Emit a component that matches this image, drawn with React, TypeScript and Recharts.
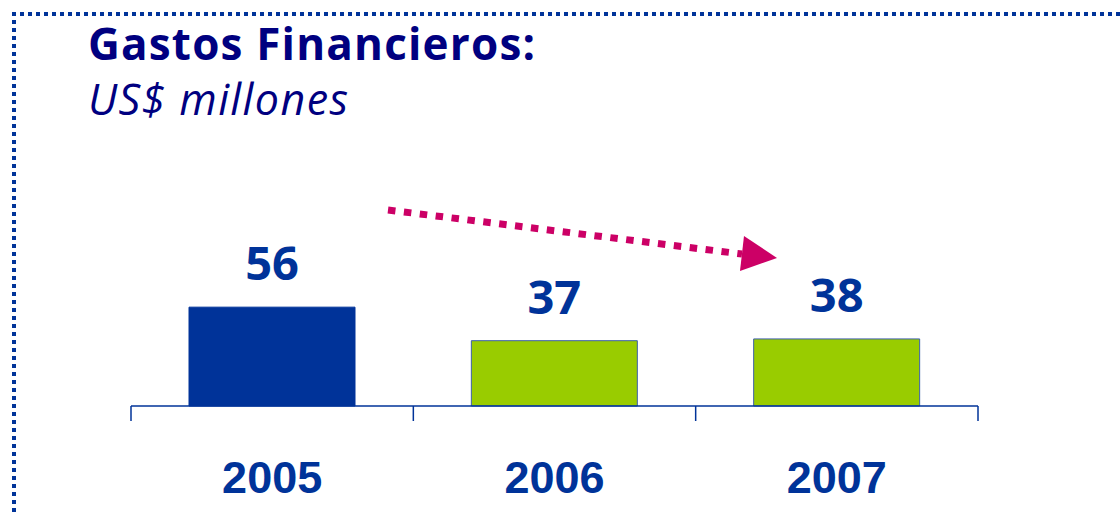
import { BarChart, Bar, XAxis, YAxis, LabelList, Cell } from "recharts";

const years = ["2005", "2006", "2007"];
const gastos = [56, 37, 38];
const barColors = ["#003399", "#99CC00", "#99CC00"];
const barStrokes = ["#003399", "#3d5fa8", "#3d5fa8"];

const data = years.map((year, i) => ({ year, gastos: gastos[i] }));

const W = 1120;
const H = 514;
const LEFT = 131;
const RIGHT = 142;
const BAND = (W - LEFT - RIGHT) / years.length;

const YearTick = (props: any) => {
  const { x, y, payload, index } = props;
  const half = BAND / 2;
  return (
    <g>
      <line x1={x - half} x2={x - half} y1={y} y2={y + 15} stroke="#003399" strokeWidth={1.5} />
      {index === years.length - 1 && (
        <line x1={x + half} x2={x + half} y1={y} y2={y + 15} stroke="#003399" strokeWidth={1.5} />
      )}
      <text
        x={x}
        y={y + 87}
        textAnchor="middle"
        fill="#003399"
        fontFamily="'Liberation Sans', Arial, sans-serif"
        fontWeight={700}
        fontSize={45}
      >
        {payload.value}
      </text>
    </g>
  );
};

export default function App() {
  return (
    <div
      style={{
        position: "fixed",
        left: 0,
        top: 0,
        width: W,
        height: H,
        background: "#fff",
        overflow: "hidden",
      }}
    >
      <BarChart
        width={W}
        height={H}
        data={data}
        margin={{ top: 229.5, right: RIGHT, bottom: 48, left: LEFT }}
      >
        <XAxis
          dataKey="year"
          height={60}
          tickLine={false}
          tickSize={0}
          tickMargin={0}
          axisLine={{ stroke: "#003399", strokeWidth: 1.5 }}
          tick={(p: any) => <YearTick {...p} />}
        />
        <YAxis hide domain={[0, 100]} />
        <Bar dataKey="gastos" barSize={166} isAnimationActive={false}>
          {data.map((_, i) => (
            <Cell key={`cell-${i}`} fill={barColors[i]} stroke={barStrokes[i]} strokeWidth={1} />
          ))}
          <LabelList
            dataKey="gastos"
            position="top"
            offset={27}
            fill="#003399"
            fontFamily="'Open Sans', sans-serif"
            fontWeight={700}
            fontSize={47}
          />
        </Bar>
      </BarChart>

      <svg
        width={W}
        height={H}
        style={{ position: "absolute", left: 0, top: 0, pointerEvents: "none" }}
      >
        {/* dotted frame */}
        <line x1={12} y1={14} x2={W} y2={14} stroke="#003399" strokeWidth={4} strokeDasharray="4 4" />
        <line x1={14} y1={20} x2={14} y2={H} stroke="#003399" strokeWidth={4} strokeDasharray="4 4" />

        <text
          x={88}
          y={60}
          fill="#000080"
          fontFamily="'Open Sans', sans-serif"
          fontWeight={700}
          fontSize={44}
          textLength={447}
        >
          Gastos Financieros:
        </text>
        <text
          x={88}
          y={115}
          fill="#000080"
          fontFamily="'Open Sans', sans-serif"
          fontStyle="italic"
          fontSize={43}
          textLength={260}
        >
          US$ millones
        </text>

        {/* trend arrow */}
        <line x1={388} y1={210} x2={742} y2={254} stroke="#CC0066" strokeWidth={7} strokeDasharray="7.5 8.5" />
        <polygon points="744,236 777,258 740,271" fill="#CC0066" />
      </svg>
    </div>
  );
}
